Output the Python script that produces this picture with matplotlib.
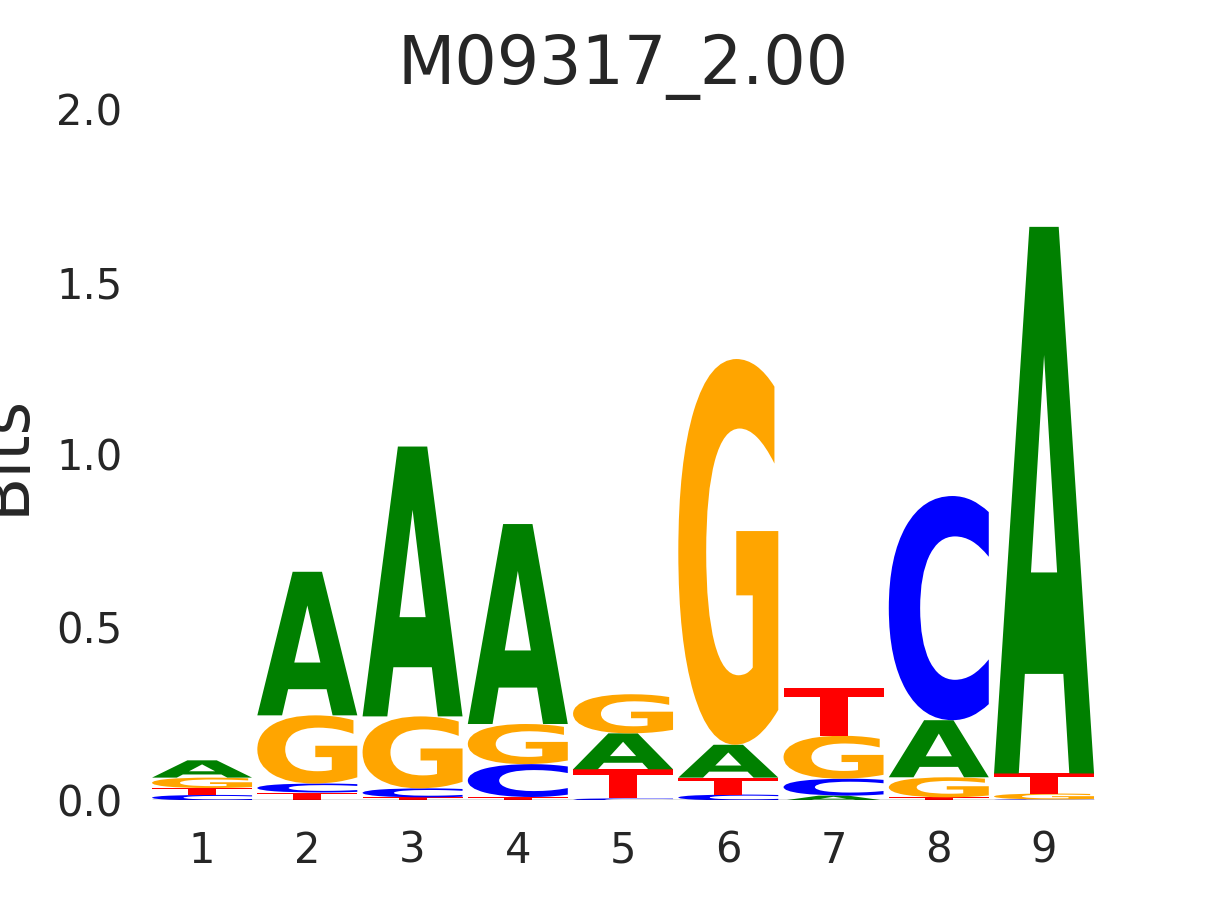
import matplotlib
matplotlib.use("Agg")
import matplotlib.pyplot as plt
import seaborn as sns
from matplotlib.textpath import TextPath
from matplotlib.patches import PathPatch
from matplotlib.font_manager import FontProperties
from matplotlib.transforms import Affine2D

# information content (bits) per base
positions = [1, 2, 3, 4, 5, 6, 7, 8, 9]
A = [0.050, 0.415, 0.780, 0.578, 0.104, 0.095, 0.014, 0.165, 1.580]
C = [0.016, 0.026, 0.026, 0.095, 0.006, 0.017, 0.049, 0.648, 0.003]
G = [0.030, 0.197, 0.208, 0.116, 0.113, 1.115, 0.124, 0.058, 0.017]
T = [0.020, 0.023, 0.009, 0.010, 0.084, 0.049, 0.139, 0.009, 0.058]

title = "M09317_2.00"
colors = {"A": "#008000", "C": "#0000ff", "G": "#ffa500", "T": "#ff0000"}

sns.set_style("white")
plt.rcParams["font.family"] = ["DejaVu Sans"]

fp = FontProperties(family="DejaVu Sans", weight="bold")
WIDTH = 0.95


def draw_letter(ax, ch, x, y0, h, color):
    tp = TextPath((0, 0), ch, size=1, prop=fp)
    bb = tp.get_extents()
    tr = (Affine2D().translate(-bb.x0, -bb.y0)
          .scale(WIDTH / bb.width, h / bb.height)
          .translate(x - WIDTH / 2, y0))
    ax.add_patch(PathPatch(tr.transform_path(tp), facecolor=color,
                           edgecolor="none", lw=0))


fig = plt.figure(figsize=(8.1, 6), dpi=150)
ax = fig.add_axes([0.123, 0.1106, 0.7796, 0.7688])

heights = {"A": A, "C": C, "G": G, "T": T}
for i, pos in enumerate(positions):
    # smallest letter at the bottom of each stack
    stack = sorted(heights, key=lambda b: heights[b][i])
    y = 0.0
    for b in stack:
        h = heights[b][i]
        draw_letter(ax, b, pos, y, h, colors[b])
        y += h

ax.hlines(0, positions[0] - WIDTH / 2, positions[-1] + WIDTH / 2,
          color="black", lw=0.6)

ax.set_xlim(0.5, 9.5)
ax.set_ylim(0, 2.0)
ax.set_xticks(positions)
ax.set_yticks([0, 0.5, 1.0, 1.5, 2.0])
ax.tick_params(axis="both", length=0, labelsize=20, colors="#262626")
ax.tick_params(axis="y", pad=13)
ax.tick_params(axis="x", pad=14)
for s in ax.spines.values():
    s.set_visible(False)
ax.set_ylabel("Bits", fontsize=31, color="#262626", labelpad=9)
ax.set_title(title, fontsize=32, color="#262626", pad=12)

fig.savefig("out.png", dpi=150)
